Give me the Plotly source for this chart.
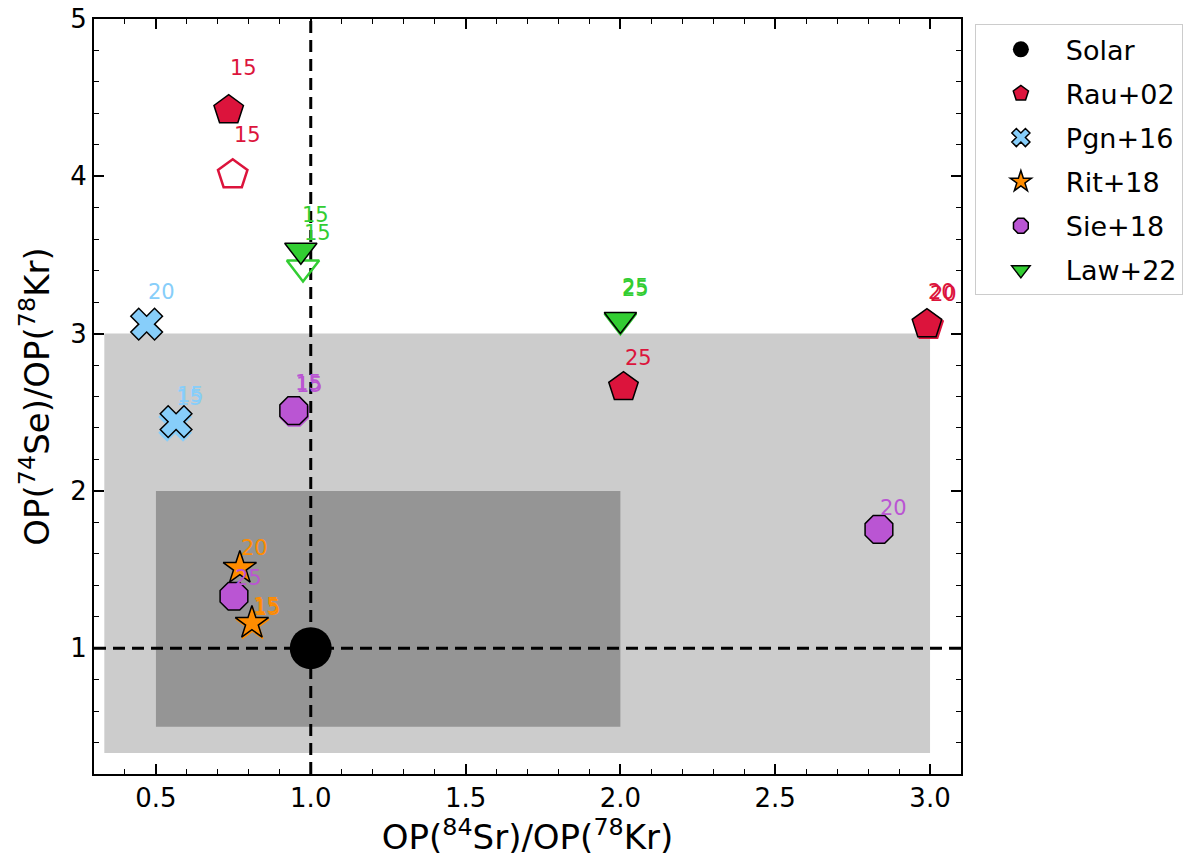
import plotly.graph_objects as go

# valores: OP(84Sr)/OP(78Kr) x OP(74Se)/OP(78Kr)
solar_x = [1.0]
solar_y = [1.0]

rau_x = [0.735, 2.01, 2.99]
rau_y = [4.42, 2.66, 3.06]
rau_lab = ['15', '25', '20']
rau_open_x = [0.748]
rau_open_y = [4.01]
rau_open_lab = ['15']
rau_twin_x = [2.995]
rau_twin_y = [3.05]
rau_twin_lab = ['20']

pgn_x = [0.47, 0.565]
pgn_y = [3.06, 2.44]
pgn_lab = ['20', '15']
pgn_twin_x = [0.562]
pgn_twin_y = [2.42]
pgn_twin_lab = ['15']

rit_x = [0.771, 0.81]
rit_y = [1.51, 1.16]
rit_lab = ['20', '15']
rit_twin_x = [0.812]
rit_twin_y = [1.15]
rit_twin_lab = ['15']

sie_x = [0.945, 0.752, 2.835]
sie_y = [2.51, 1.33, 1.755]
sie_lab = ['15', '25', '20']
sie_twin_x = [0.947]
sie_twin_y = [2.50]
sie_twin_lab = ['15']

law_x = [0.968, 2.0]
law_y = [3.53, 3.09]
law_lab = ['15', '25']
law_open_x = [0.975]
law_open_y = [3.42]
law_open_lab = ['15']
law_twin_x = [2.0]
law_twin_y = [3.08]
law_twin_lab = ['25']

# faixas de incerteza (fator 3 e fator 2) e linhas de referencia
faixa_larga = [1 / 3, 3.0]
faixa_estreita = [0.5, 2.0]
ref_solar = 1.0
faixa_x = [0.3, 3.1]
faixa_y = [0.2, 5.0]

FONTE = 'DejaVu Sans'

series = [
    # nome, cor, simbolo, tamanho, (x, y, rotulos), (open), (twin)
    ('Rau+02', '#DC143C', 'pentagon', 31,
     (rau_x, rau_y, rau_lab), (rau_open_x, rau_open_y, rau_open_lab), (rau_twin_x, rau_twin_y, rau_twin_lab)),
    ('Pgn+16', '#87CEFA', 'x', 28,
     (pgn_x, pgn_y, pgn_lab), None, (pgn_twin_x, pgn_twin_y, pgn_twin_lab)),
    ('Rit+18', '#FF8C00', 'star', 25,
     (rit_x, rit_y, rit_lab), None, (rit_twin_x, rit_twin_y, rit_twin_lab)),
    ('Sie+18', '#BA55D3', 'octagon', 30,
     (sie_x, sie_y, sie_lab), None, (sie_twin_x, sie_twin_y, sie_twin_lab)),
    ('Law+22', '#32CD32', 'triangle-down', 28,
     (law_x, law_y, law_lab), (law_open_x, law_open_y, law_open_lab), (law_twin_x, law_twin_y, law_twin_lab)),
]

fig = go.Figure()

fig.add_trace(
    go.Scatter(
        x=solar_x,
        y=solar_y,
        mode='markers',
        name='Solar',
        legendgroup='Solar',
        legendrank=1,
        marker=dict(symbol='circle', size=42, color='black', line=dict(width=0))
    )
)

anotacoes = []


def rotulos(xs, ys, labs, cor):
    for xv, yv, lab in zip(xs, ys, labs):
        anotacoes.append(dict(
            x=xv + 0.048,
            y=1.05 * yv + 0.05,
            text=lab,
            showarrow=False,
            xanchor='center',
            yanchor='middle',
            font=dict(family=FONTE, size=21, color=cor)
        ))


for i, (nome, cor, simb, tam, princ, aberto, gemeo) in enumerate(series):
    if gemeo:
        fig.add_trace(go.Scatter(
            x=gemeo[0], y=gemeo[1], mode='markers', showlegend=False,
            marker=dict(symbol=simb, size=tam, color=cor, line=dict(width=1.5, color=cor))
        ))
        rotulos(gemeo[0], gemeo[1], gemeo[2], cor)
    if aberto:
        fig.add_trace(go.Scatter(
            x=aberto[0], y=aberto[1], mode='markers', showlegend=False,
            marker=dict(symbol=simb + '-open', size=tam, color=cor, line=dict(width=2.5, color=cor))
        ))
        rotulos(aberto[0], aberto[1], aberto[2], cor)
    fig.add_trace(go.Scatter(
        x=princ[0], y=princ[1], mode='markers', name=nome,
        legendgroup=nome, legendrank=i + 2,
        marker=dict(symbol=simb, size=tam, color=cor, line=dict(width=1.5, color='black'))
    ))
    rotulos(princ[0], princ[1], princ[2], cor)

formas = [
    dict(type='rect', xref='x', yref='y', layer='below',
         x0=faixa_larga[0], x1=faixa_larga[1], y0=faixa_larga[0], y1=faixa_larga[1],
         fillcolor='#cccccc', line=dict(width=0)),
    dict(type='rect', xref='x', yref='y', layer='below',
         x0=faixa_estreita[0], x1=faixa_estreita[1], y0=faixa_estreita[0], y1=faixa_estreita[1],
         fillcolor='#959595', line=dict(width=0)),
    dict(type='line', xref='x', yref='y', layer='below',
         x0=ref_solar, x1=ref_solar, y0=faixa_y[0], y1=faixa_y[1],
         line=dict(color='black', width=3, dash='12px,7px')),
    dict(type='line', xref='x', yref='y', layer='below',
         x0=faixa_x[0], x1=faixa_x[1], y0=ref_solar, y1=ref_solar,
         line=dict(color='black', width=3, dash='12px,7px')),
]

eixo = dict(
    showgrid=False,
    zeroline=False,
    showline=True,
    linecolor='black',
    linewidth=2,
    mirror='allticks',
    ticks='inside',
    ticklen=10,
    tickwidth=1.5,
    tickcolor='black',
    automargin=False,
    ticklabeloverflow='allow',
    tickfont=dict(family=FONTE, size=26, color='black'),
)

fig.update_layout(
    width=1200,
    height=862,
    margin=dict(l=86, r=247, t=11, b=96),
    plot_bgcolor='white',
    paper_bgcolor='white',
    font=dict(family=FONTE, color='black'),
    shapes=formas,
    annotations=anotacoes,
    xaxis=dict(
        eixo,
        range=faixa_x,
        tick0=0, dtick=0.5, tickformat='.1f',
        minor=dict(tick0=0, dtick=0.1, ticks='inside', ticklen=5, tickwidth=1.2, tickcolor='black'),
        title=dict(text='OP(<sup>84</sup>Sr)/OP(<sup>78</sup>Kr)', font=dict(family=FONTE, size=34), standoff=10),
    ),
    yaxis=dict(
        eixo,
        range=faixa_y,
        tick0=0, dtick=1,
        minor=dict(tick0=0, dtick=0.2, ticks='inside', ticklen=5, tickwidth=1.2, tickcolor='black'),
        title=dict(text='OP(<sup>74</sup>Se)/OP(<sup>78</sup>Kr)', font=dict(family=FONTE, size=34), standoff=10),
    ),
    legend=dict(
        x=1.016,
        y=0.993,
        xanchor='left',
        yanchor='top',
        bordercolor='#cccccc',
        borderwidth=1,
        font=dict(family=FONTE, size=27),
        tracegroupgap=6,
        itemwidth=80,
    ),
)

fig.write_html('out.html')
